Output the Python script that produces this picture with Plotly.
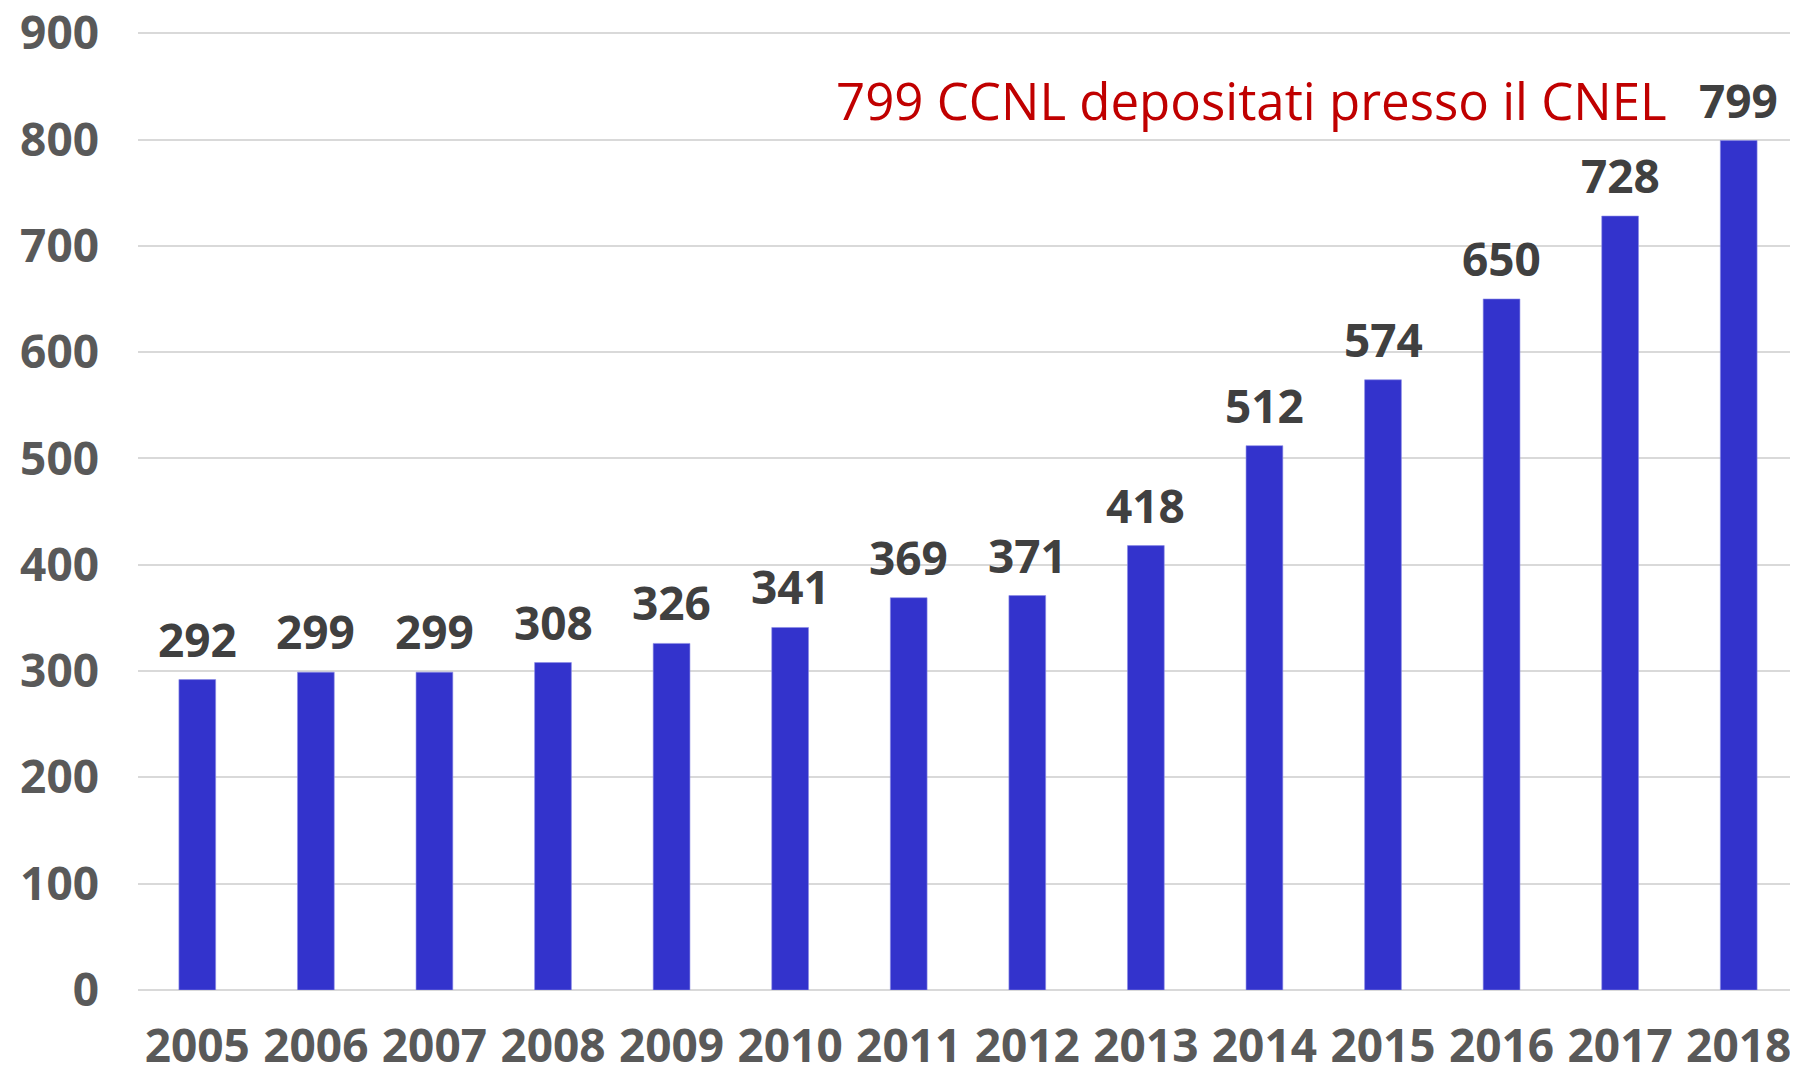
import plotly.graph_objects as go

years = ["2005", "2006", "2007", "2008", "2009", "2010", "2011",
         "2012", "2013", "2014", "2015", "2016", "2017", "2018"]
counts = [292, 299, 299, 308, 326, 341, 369, 371, 418, 512, 574, 650, 728, 799]
y_ticks = [0, 100, 200, 300, 400, 500, 600, 700, 800, 900]
note_text = "799 CCNL depositati presso il CNEL"

FONT = "Open Sans"
BAR = "#3333CC"

fig = go.Figure()
fig.add_trace(go.Bar(
    x=years, y=counts,
    marker=dict(color=BAR, line=dict(color="#8C8CE6", width=0.6)),
    hoverinfo="x+y",
))

for i, v in enumerate(counts):
    fig.add_annotation(
        x=i, y=v, xref="x", yref="y", text=f"<b>{v}</b>",
        showarrow=False, yanchor="bottom", yshift=8,
        font=dict(family=FONT, size=46, color="#404040"),
    )

fig.add_annotation(
    x=0.922, y=0.927, xref="paper", yref="paper", text=note_text,
    showarrow=False, xanchor="right", yanchor="middle",
    font=dict(family=FONT, size=51, color="#C00000"),
)

# page body has an 8px default margin, so the figure is sized to fit inside
fig.update_layout(
    width=1790, height=1057,
    margin=dict(l=130, r=0, t=22, b=75),
    plot_bgcolor="white", paper_bgcolor="white",
    bargap=0.69, showlegend=False,
    font=dict(family=FONT),
)
fig.update_xaxes(
    type="category", range=[-0.5, len(years) - 0.5], autorange=False,
    automargin=False, ticklabeloverflow="allow",
    showgrid=False, showline=False, zeroline=False,
    tickfont=dict(family=FONT, size=46, color="#595959", weight="bold"),
    ticks="", ticklabelstandoff=25,
)
fig.update_yaxes(
    range=[0, 903], autorange=False, tickvals=y_ticks, automargin=False,
    ticklabeloverflow="allow",
    showgrid=True, gridcolor="#D9D9D9", gridwidth=1.6,
    zeroline=True, zerolinecolor="#D9D9D9", zerolinewidth=1.6,
    showline=False, ticks="",
    tickfont=dict(family=FONT, size=46, color="#595959", weight="bold"),
    ticklabelstandoff=38,
)

fig.write_html("out.html")
